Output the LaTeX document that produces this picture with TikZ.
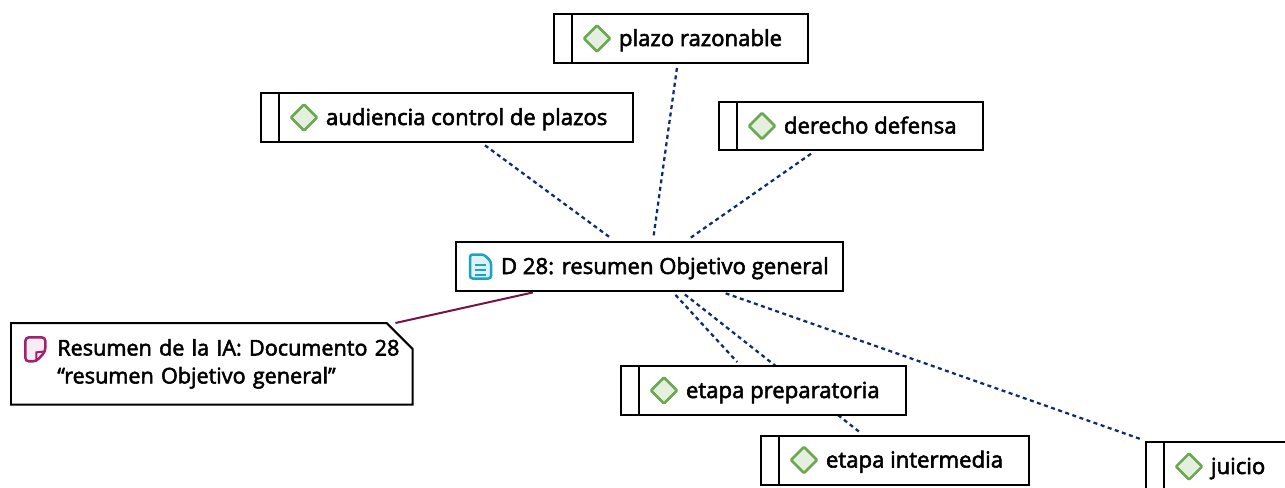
\documentclass[tikz,border=0pt]{standalone}
\usepackage{fontspec}
\setmainfont{Open Sans}
\newfontfamily\labelfont[FakeBold=2.5]{Open Sans}
\usetikzlibrary{backgrounds}
\definecolor{linknavy}{HTML}{0B2A78}
\definecolor{memored}{HTML}{7A1145}
\definecolor{codegreen}{HTML}{6BA84F}
\definecolor{docblue}{HTML}{1BA3C6}
\definecolor{memopink}{HTML}{A3206E}
\tikzset{
  every node/.style={font=\labelfont\fontsize{12.6}{15.9}\selectfont,text=black},
  box line/.style={draw=black,line width=.04cm},
  code icon/.style={
    path picture={
      \draw[black,line width=.04cm] ([xshift=.36cm]path picture bounding box.north west) -- ([xshift=.36cm]path picture bounding box.south west);
      \draw[draw=codegreen,fill=codegreen!18,line width=.05cm,rounded corners=.5pt] (path picture bounding box.west) ++(30,0) -- ++(13,-13) -- ++(13,13) -- ++(-13,13) -- cycle;
    }},
  doc icon/.style={
    path picture={
      \draw[draw=docblue,fill=docblue!15,line width=.05cm,rounded corners=1.5pt] (path picture bounding box.west) ++(14,-12) -- ++(14,0) -- ++(7,7) -- ++(0,17) -- ++(-21,0) -- cycle;
      \foreach \liney in {-2,3,8}
        \draw[docblue,line width=.04cm] (path picture bounding box.west) ++(19,\liney) -- ++(11,0);
    }},
  memo icon/.style={
    path picture={
      \draw[draw=memopink,fill=memopink!8,line width=.05cm,rounded corners=2pt] (path picture bounding box.north west) ++(14,14) -- ++(20,0) -- ++(0,14) -- ++(-9,10) -- ++(-11,0) -- cycle;
      \draw[draw=memopink,line width=.04cm] (path picture bounding box.north west) ++(34,28) -- ++(-9,1) -- ++(0,9);
    }},
  code box/.style={box line,fill=white,anchor=west,minimum height=.98cm,inner xsep=.52cm,inner ysep=0,text height=.4cm,text depth=.1cm,code icon,execute at begin node={\hspace*{.78cm}}},
  doc box/.style={box line,fill=white,anchor=west,minimum height=.98cm,inner xsep=.28cm,inner ysep=0,text height=.4cm,text depth=.1cm,doc icon,execute at begin node={\hspace*{.62cm}}},
  memo box/.style={anchor=north west,font=\labelfont\fontsize{12.3}{15.9}\selectfont,text width=8.02cm,minimum height=1.62cm,inner xsep=0,inner ysep=0,align=left,memo icon},
  code link/.style={draw=linknavy,line width=.045cm,dash pattern=on .08cm off .07cm,shorten >=.08cm,shorten <=.08cm},
  memo link/.style={draw=memored,line width=.04cm,shorten >=.04cm}
}
\begin{document}
\begin{tikzpicture}[x=.02cm,y=-.02cm]
  \useasboundingbox (0,0) rectangle (1285,487);
  \clip (0,0) rectangle (1285,487);

  \node [doc box] (doc) at (455,266.5) {D 28: resumen Objetivo general};
  \node [code box] (plazo) at (553,38.5) {plazo razonable};
  \node [code box] (audiencia) at (260,117.5) {audiencia control de plazos};
  \node [code box] (derecho) at (718,126) {derecho defensa};
  \node [code box] (preparatoria) at (620,390.5) {etapa preparatoria};
  \node [code box] (intermedia) at (760,460) {etapa intermedia};
  \node [code box] (juicio) at (1145,466.5) {juicio};
  \node [memo box] (memo) at (11,323) {\hspace*{.92cm}Resumen de la IA: Documento 28\\\hspace*{.92cm}“resumen Objetivo general”};

  \draw [box line] (memo.north west) -- ([xshift=-.52cm]memo.north east) -- ([yshift=-.52cm]memo.north east) -- (memo.south east) -- (memo.south west) -- cycle;

  \begin{scope}[on background layer]
    \draw [code link] (plazo) -- (doc);
    \draw [code link] (audiencia) -- (doc);
    \draw [code link] (derecho) -- (doc);
    \draw [code link] (doc) -- (preparatoria);
    \draw [code link] (doc) -- (intermedia);
    \draw [code link] (doc) -- (juicio);
    \draw [memo link] (memo) -- (doc);
  \end{scope}
\end{tikzpicture}
\end{document}
